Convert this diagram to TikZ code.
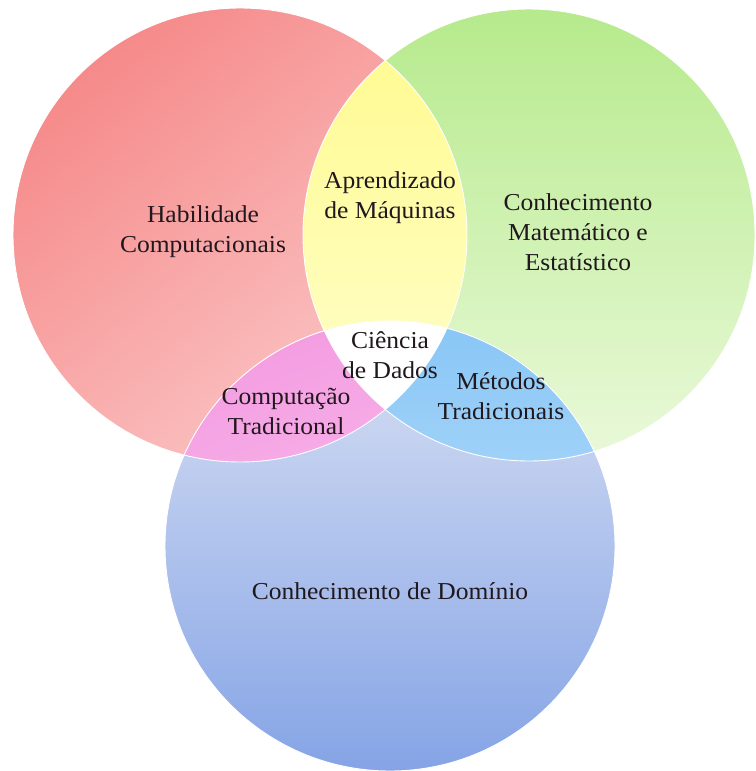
\documentclass[tikz,border=0pt]{standalone}
\usepackage{fontspec}
\setmainfont[FakeStretch=1.05]{Liberation Serif}
\usetikzlibrary{calc}
\definecolor{redtop}{RGB}{246,138,138}
\definecolor{redbot}{RGB}{251,200,200}
\definecolor{greentop}{RGB}{182,234,140}
\definecolor{greenbot}{RGB}{234,249,218}
\definecolor{bluetop}{RGB}{218,225,243}
\definecolor{bluebot}{RGB}{133,164,230}
\definecolor{yellowtop}{RGB}{255,250,140}
\definecolor{yellowbot}{RGB}{255,255,208}
\definecolor{pinktop}{RGB}{244,158,226}
\definecolor{pinkbot}{RGB}{252,208,242}
\definecolor{skytop}{RGB}{136,198,246}
\definecolor{skybot}{RGB}{208,234,252}
\definecolor{inkcol}{RGB}{32,24,30}

\begin{document}
\begin{tikzpicture}[x=1pt,y=-1pt,
		setlabel/.style={align=center, text=inkcol, font=\fontsize{24.3}{30}\selectfont, inner sep=0pt},
		rim/.style={draw=white, line width=0.9pt}]
				\useasboundingbox (0,0) rectangle (755,771);
				\coordinate (redc) at (240,235);
				\coordinate (greenc) at (529,235);
				\coordinate (bluec) at (390,546);
				
				% the three sets
				\shade[top color=redtop, bottom color=redbot, shading angle=40] (redc) circle (227);
				\shade[top color=greentop, bottom color=greenbot] (greenc) circle (226);
				\shade[top color=bluetop, bottom color=bluebot] (bluec) circle (225);
				
				% pairwise overlaps
				\begin{scope}
					\clip (redc) circle (227);
					\shade[top color=yellowtop, bottom color=yellowbot] (greenc) circle (226);
				\end{scope}
				\begin{scope}
					\clip (redc) circle (227);
					\shade[top color=pinktop, bottom color=pinkbot, shading angle=20] (bluec) circle (225);
				\end{scope}
				\begin{scope}
					\clip (greenc) circle (226);
					\shade[top color=skytop, bottom color=skybot] (bluec) circle (225);
				\end{scope}
				
				% centre
				\begin{scope}
					\clip (redc) circle (227);
					\clip (greenc) circle (226);
					\fill[white] (bluec) circle (225);
				\end{scope}
				
				\draw[rim] (redc) circle (227);
				\draw[rim] (greenc) circle (226);
				\draw[rim] (bluec) circle (225);
				
				\node[setlabel] (hab) at (203,232) {Habilidade\\Computacionais};
				\node[setlabel] (apr) at (390,198) {Aprendizado\\de Máquinas};
				\node[setlabel] (mat) at (578,232) {Conhecimento\\Matemático e\\Estatístico};
				\node[setlabel] (cie) at (390,355) {Ciência\\de Dados};
				\node[setlabel] (comp) at (286,411) {Computação\\Tradicional};
				\node[setlabel] (met) at (501,396) {Métodos\\Tradicionais};
				\node[setlabel] (dom) at (390,591) {Conhecimento de Domínio};
			\end{tikzpicture}
\end{document}
